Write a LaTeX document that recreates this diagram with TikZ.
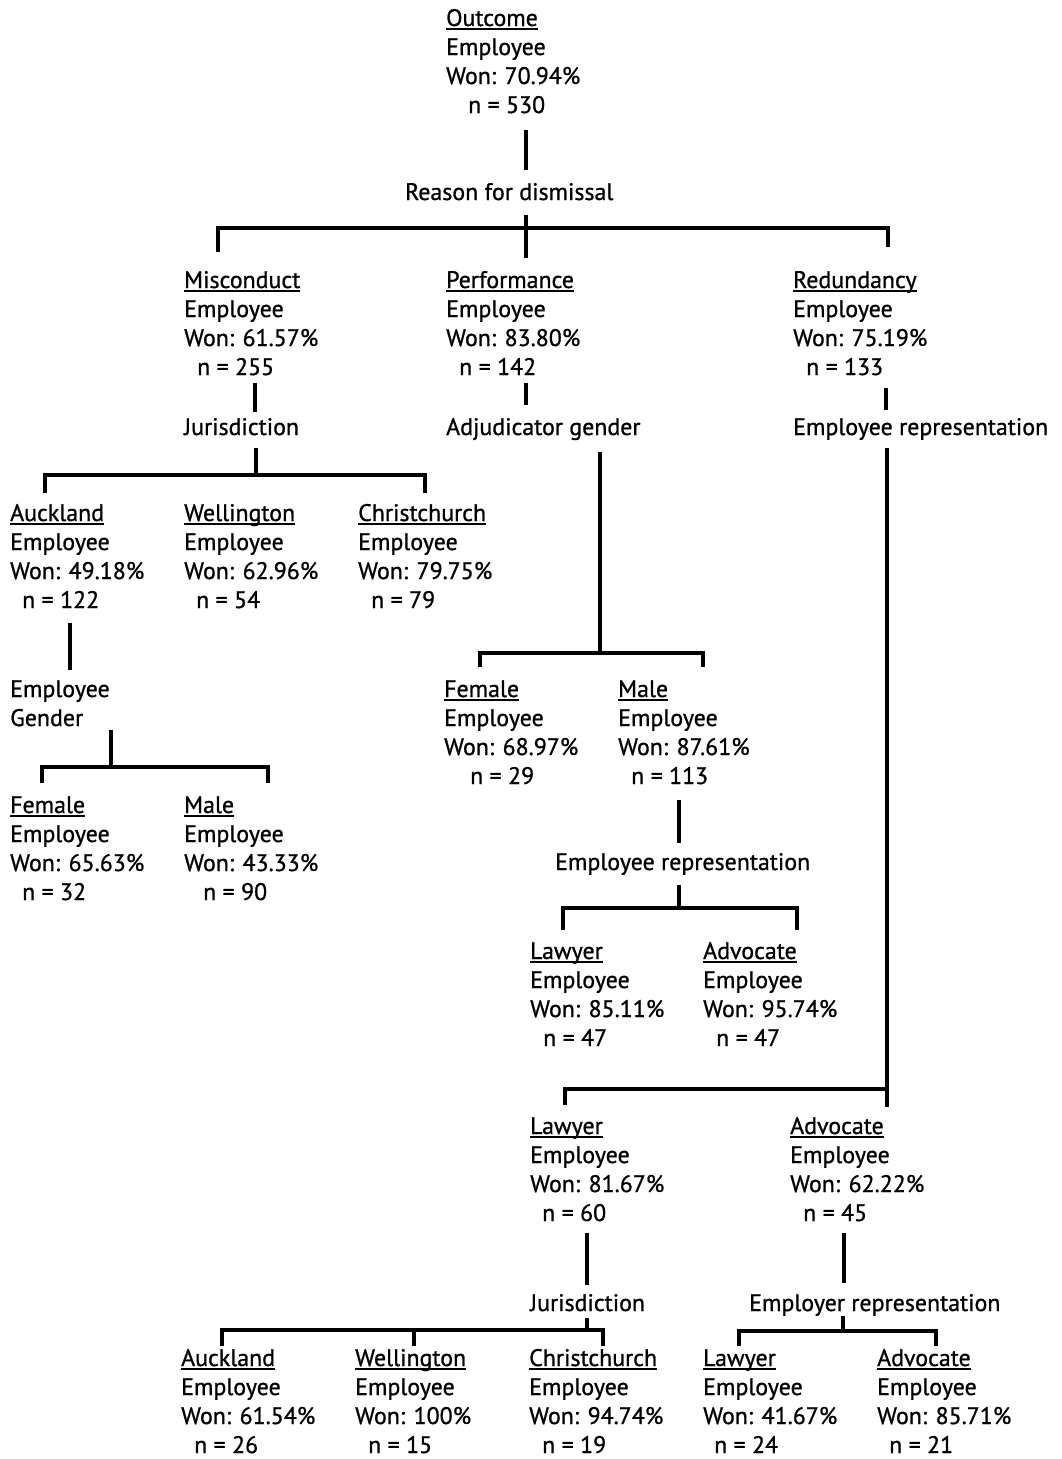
\documentclass[tikz,border=0pt]{standalone}
\usepackage{fontspec}
\setmainfont{PT Sans}[BoldFont=PT Sans, BoldFeatures={FakeBold=0.9}]
\newlength\refw
\newcommand\ulin[1]{\setbox0\hbox{#1}\rlap{\rule[-3.5pt]{\wd0}{1.9pt}}\box0}
\newcommand\leaf[4]{\vtop{\baselineskip=29pt\hbox{\ulin{#1}}\hbox{Employee}\hbox{Won: #2}\hbox{\hspace*{#4pt}n = #3}}}
\newcommand\twolines[2]{\vtop{\baselineskip=29pt\hbox{#1}\hbox{#2}}}
\begin{document}
\settowidth\refw{\fontsize{10pt}{12pt}\selectfont\bfseries Employee representation}%
\pgfmathsetmacro\fs{10*255/\refw}%
\begin{tikzpicture}[x=1pt,y=-1pt]
\tikzset{
  lbl/.style={anchor=base west, inner sep=0pt, font=\fontsize{\fs pt}{29pt}\selectfont\bfseries},
  link/.style={line width=3.2pt, line join=miter}
}
\useasboundingbox[fill=white] (0,0) rectangle (1061,1459);

% ---------- nodes ----------
\node[lbl] (top)   at (446,26)   {\leaf{Outcome}{70.94\%}{530}{22}};
\node[lbl] (rfd)   at (405,200)  {Reason for dismissal};
\node[lbl] (mis)   at (184,288)  {\leaf{Misconduct}{61.57\%}{255}{13}};
\node[lbl] (perf)  at (446,288)  {\leaf{Performance}{83.80\%}{142}{13}};
\node[lbl] (red)   at (793,288)  {\leaf{Redundancy}{75.19\%}{133}{13}};
\node[lbl] (jur1)  at (184,435)  {Jurisdiction};
\node[lbl] (adj)   at (446,435)  {Adjudicator gender};
\node[lbl] (er1)   at (793,435)  {Employee representation};
\node[lbl] (auck1) at (10,521)   {\leaf{Auckland}{49.18\%}{122}{12}};
\node[lbl] (well1) at (184,521)  {\leaf{Wellington}{62.96\%}{54}{12}};
\node[lbl] (chch1) at (358,521)  {\leaf{Christchurch}{79.75\%}{79}{13}};
\node[lbl] (eg)    at (10,697)   {\twolines{Employee}{Gender}};
\node[lbl] (fem1)  at (10,813)   {\leaf{Female}{65.63\%}{32}{12}};
\node[lbl] (male1) at (184,813)  {\leaf{Male}{43.33\%}{90}{19}};
\node[lbl] (fem2)  at (444,697)  {\leaf{Female}{68.97\%}{29}{26}};
\node[lbl] (male2) at (618,697)  {\leaf{Male}{87.61\%}{113}{13}};
\node[lbl] (er2)   at (555,870)  {Employee representation};
\node[lbl] (law1)  at (530,959)  {\leaf{Lawyer}{85.11\%}{47}{13}};
\node[lbl] (adv1)  at (703,959)  {\leaf{Advocate}{95.74\%}{47}{13}};
\node[lbl] (law2)  at (530,1134) {\leaf{Lawyer}{81.67\%}{60}{12}};
\node[lbl] (adv2)  at (790,1134) {\leaf{Advocate}{62.22\%}{45}{13}};
\node[lbl] (jur2)  at (530,1311) {Jurisdiction};
\node[lbl] (emr)   at (749,1311) {Employer representation};
\node[lbl] (auck2) at (181,1366) {\leaf{Auckland}{61.54\%}{26}{13}};
\node[lbl] (well2) at (355,1366) {\leaf{Wellington}{100\%}{15}{13}};
\node[lbl] (chch2) at (529,1366) {\leaf{Christchurch}{94.74\%}{19}{13}};
\node[lbl] (law3)  at (703,1366) {\leaf{Lawyer}{41.67\%}{24}{11}};
\node[lbl] (adv3)  at (877,1366) {\leaf{Advocate}{85.71\%}{21}{12}};

% ---------- junction coordinates ----------
\foreach \n/\x/\y in {
  topA/526/130, topB/526/170,
  barA/526/228, barAL/218/252, barAR/888/247, barAt/526/215, barAb/526/258,
  misA/255/383, misB/255/412,
  jurA/256/448, barB/256/475, barBL/45/493, barBR/425/493,
  perfA/526/383, perfB/526/405,
  adjA/600/452, barC/600/653, barCL/480/667, barCR/703/667,
  redA/886/388, redB/886/410,
  erA/887/448, barF/887/1089, barFL/565/1105, barFR/887/1107,
  auA/70/623, auB/70/670,
  egA/111/730, barD/111/767, barDL/42/783, barDR/268/783,
  maA/679/800, maB/679/843,
  erB/679/885, barE/679/908, barEL/563/930, barER/797/930,
  lawA/587/1233, lawB/587/1285,
  jurB/587/1318, barG/587/1330, barGL/222/1346, barGR/603/1346, barGM/414/1346,
  advA/844/1233, advB/844/1283,
  emA/843/1316, barH/843/1331, barHL/739/1346, barHR/936/1346}
  \coordinate (\n) at (\x,\y);

% ---------- connectors ----------
% root
\draw[link] (topA) -- (topB);
\draw[link] (barAL) -- (barAL |- barA) -- (barAR |- barA) -- (barAR);
\draw[link] (barAt) -- (barAb);
% misconduct
\draw[link] (misA) -- (misB);
\draw[link] (jurA) -- (barB);
\draw[link] (barBL) -- (barBL |- barB) -- (barBR |- barB) -- (barBR);
% auckland -> employee gender
\draw[link] (auA) -- (auB);
\draw[link] (egA) -- (barD);
\draw[link] (barDL) -- (barDL |- barD) -- (barDR |- barD) -- (barDR);
% performance
\draw[link] (perfA) -- (perfB);
\draw[link] (adjA) -- (barC);
\draw[link] (barCL) -- (barCL |- barC) -- (barCR |- barC) -- (barCR);
% male -> employee representation
\draw[link] (maA) -- (maB);
\draw[link] (erB) -- (barE);
\draw[link] (barEL) -- (barEL |- barE) -- (barER |- barE) -- (barER);
% redundancy
\draw[link] (redA) -- (redB);
\draw[link] (erA) -- (barFR);
\draw[link] (barFL) -- (barFL |- barF) -- (barF);
% lawyer -> jurisdiction
\draw[link] (lawA) -- (lawB);
\draw[link] (jurB) -- (barG);
\draw[link] (barGL) -- (barGL |- barG) -- (barGR |- barG) -- (barGR);
\draw[link] (barGM |- barG) -- (barGM);
% advocate -> employer representation
\draw[link] (advA) -- (advB);
\draw[link] (emA) -- (barH);
\draw[link] (barHL) -- (barHL |- barH) -- (barHR |- barH) -- (barHR);
\end{tikzpicture}
\end{document}
